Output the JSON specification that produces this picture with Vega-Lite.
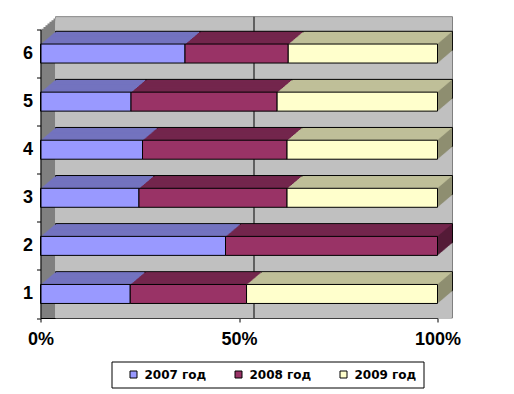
{
  "$schema": "https://vega.github.io/schema/vega-lite/v6.json",
  "width": 397,
  "height": 288.5,
  "autosize": {"type": "none"},
  "padding": {"left": 40.5, "top": 29.5, "right": 76.5, "bottom": 76},
  "background": "white",
  "config": {
    "view": {"stroke": null},
    "font": "Liberation Sans",
    "axisX": {
      "grid": false, "tickSize": 4, "labelPadding": 8, "domainColor": "black", "tickColor": "black",
      "labelColor": "black", "labelFont": "Liberation Sans", "labelFontSize": 18,
      "labelFontWeight": "bold", "labelFlush": false, "labelOverlap": false, "zindex": 1
    }
  },
  "datasets": {
    "shares": [
      {"cat": "1", "year": "2007 год", "value": 22.6},
      {"cat": "1", "year": "2008 год", "value": 29.3},
      {"cat": "1", "year": "2009 год", "value": 48.1},
      {"cat": "2", "year": "2007 год", "value": 46.6},
      {"cat": "2", "year": "2008 год", "value": 53.4},
      {"cat": "3", "year": "2007 год", "value": 24.8},
      {"cat": "3", "year": "2008 год", "value": 37.3},
      {"cat": "3", "year": "2009 год", "value": 37.9},
      {"cat": "4", "year": "2007 год", "value": 25.7},
      {"cat": "4", "year": "2008 год", "value": 36.4},
      {"cat": "4", "year": "2009 год", "value": 37.9},
      {"cat": "5", "year": "2007 год", "value": 22.8},
      {"cat": "5", "year": "2008 год", "value": 36.8},
      {"cat": "5", "year": "2009 год", "value": 40.4},
      {"cat": "6", "year": "2007 год", "value": 36.4},
      {"cat": "6", "year": "2008 год", "value": 26.0},
      {"cat": "6", "year": "2009 год", "value": 37.6}
    ]
  },
  "layer": [
    {
      "data": {"name": "shares"},
      "transform": [
        {"stack": "value", "groupby": ["cat"], "offset": "normalize", "sort": [{"field": "year", "order": "ascending"}], "as": ["x0", "x1"]},
        {"aggregate": [{"op": "min", "field": "x0", "as": "lo"}, {"op": "max", "field": "x1", "as": "hi"}]}
      ],
      "encoding": {
        "x": {"field": "lo", "type": "quantitative", "scale": {"domain": [0, 1], "nice": false}, "axis": {"title": null, "values": [0, 0.5, 1], "format": "%"}},
        "x2": {"field": "hi"}
      },
      "layer": [
        {"mark": {"type": "rect", "fill": "#808080", "xOffset": 15, "x2Offset": 15, "yOffset": -12.75, "y2Offset": -12.75}},
        {"mark": {"type": "rect", "fill": "#808080", "xOffset": 13, "x2Offset": 13, "yOffset": -11.05, "y2Offset": -11.05}},
        {"mark": {"type": "rect", "fill": "#808080", "xOffset": 11, "x2Offset": 11, "yOffset": -9.35, "y2Offset": -9.35}},
        {"mark": {"type": "rect", "fill": "#808080", "xOffset": 9, "x2Offset": 9, "yOffset": -7.65, "y2Offset": -7.65}},
        {"mark": {"type": "rect", "fill": "#808080", "xOffset": 7, "x2Offset": 7, "yOffset": -5.95, "y2Offset": -5.95}},
        {"mark": {"type": "rect", "fill": "#808080", "xOffset": 5, "x2Offset": 5, "yOffset": -4.25, "y2Offset": -4.25}},
        {"mark": {"type": "rect", "fill": "#808080", "xOffset": 3, "x2Offset": 3, "yOffset": -2.55, "y2Offset": -2.55}},
        {"mark": {"type": "rect", "fill": "#808080", "xOffset": 1, "x2Offset": 1, "yOffset": -0.85, "y2Offset": -0.85}},
        {"mark": {"type": "rect", "fill": "#808080"}},
        {"mark": {"type": "rect", "fill": "#C0C0C0", "stroke": "#808080", "strokeWidth": 1, "xOffset": 15, "x2Offset": 15, "yOffset": -12.75, "y2Offset": -12.75}},
        {"mark": {"type": "rect", "fill": "#C0C0C0", "xOffset": 15, "x2Offset": 14, "yOffset": -11.9, "y2Offset": -11.9}},
        {"mark": {"type": "rect", "fill": "#C0C0C0", "xOffset": 15, "x2Offset": 12, "yOffset": -10.2, "y2Offset": -10.2}},
        {"mark": {"type": "rect", "fill": "#C0C0C0", "xOffset": 15, "x2Offset": 10, "yOffset": -8.5, "y2Offset": -8.5}},
        {"mark": {"type": "rect", "fill": "#C0C0C0", "xOffset": 15, "x2Offset": 8, "yOffset": -6.8, "y2Offset": -6.8}},
        {"mark": {"type": "rect", "fill": "#C0C0C0", "xOffset": 15, "x2Offset": 6, "yOffset": -5.1, "y2Offset": -5.1}},
        {"mark": {"type": "rect", "fill": "#C0C0C0", "xOffset": 15, "x2Offset": 4, "yOffset": -3.4, "y2Offset": -3.4}},
        {"mark": {"type": "rect", "fill": "#C0C0C0", "xOffset": 15, "x2Offset": 2, "yOffset": -1.7, "y2Offset": -1.7}},
        {"mark": {"type": "rect", "fill": "#C0C0C0", "xOffset": 15, "x2Offset": 0}}
      ]
    },
    {
      "data": {"values": [{"w": 1}]},
      "mark": {"type": "rule", "color": "black", "strokeWidth": 1, "xOffset": 15, "x2Offset": 15, "yOffset": -12.75, "y2Offset": -12.75},
      "encoding": {"x": {"datum": 0.5, "type": "quantitative", "axis": {"title": null, "values": [0, 0.5, 1], "format": "%"}}}
    },
    {
      "data": {"name": "shares"},
      "transform": [
        {"stack": "value", "groupby": ["cat"], "offset": "normalize", "sort": [{"field": "year", "order": "ascending"}], "as": ["x0", "x1"]}
      ],
      "encoding": {
        "y": {
          "field": "cat", "type": "nominal", "sort": "descending",
          "scale": {"paddingInner": 0, "paddingOuter": 0},
          "axis": {
            "title": null, "labelAngle": 0, "tickBand": "extent", "tickSize": 4, "labelPadding": 4,
            "domainColor": "black", "tickColor": "black", "labelColor": "black",
            "labelFont": "Liberation Sans", "labelFontSize": 18, "labelFontWeight": "bold",
            "grid": false, "zindex": 1
          }
        }
      },
      "layer": [
        {
          "encoding": {
            "x": {"field": "x0", "type": "quantitative", "axis": {"title": null, "values": [0, 0.5, 1], "format": "%"}},
            "x2": {"field": "x1"},
            "color": {"field": "year", "type": "nominal", "scale": {"domain": ["2007 год", "2008 год", "2009 год"], "range": ["#7373BF", "#73264D", "#BFBF99"]}, "legend": null}
          },
          "layer": [
            {"mark": {"type": "bar", "size": 19, "stroke": "black", "strokeWidth": 1, "xOffset": 15, "x2Offset": 15, "yOffset": -12.75, "y2Offset": -12.75}},
            {"mark": {"type": "bar", "size": 19, "xOffset": 14, "x2Offset": 14, "yOffset": -11.9, "y2Offset": -11.9}},
            {"mark": {"type": "bar", "size": 19, "xOffset": 13, "x2Offset": 13, "yOffset": -11.05, "y2Offset": -11.05}},
            {"mark": {"type": "bar", "size": 19, "xOffset": 12, "x2Offset": 12, "yOffset": -10.2, "y2Offset": -10.2}},
            {"mark": {"type": "bar", "size": 19, "xOffset": 11, "x2Offset": 11, "yOffset": -9.35, "y2Offset": -9.35}},
            {"mark": {"type": "bar", "size": 19, "xOffset": 10, "x2Offset": 10, "yOffset": -8.5, "y2Offset": -8.5}},
            {"mark": {"type": "bar", "size": 19, "xOffset": 9, "x2Offset": 9, "yOffset": -7.65, "y2Offset": -7.65}},
            {"mark": {"type": "bar", "size": 19, "xOffset": 8, "x2Offset": 8, "yOffset": -6.8, "y2Offset": -6.8}},
            {"mark": {"type": "bar", "size": 19, "xOffset": 7, "x2Offset": 7, "yOffset": -5.95, "y2Offset": -5.95}},
            {"mark": {"type": "bar", "size": 19, "xOffset": 6, "x2Offset": 6, "yOffset": -5.1, "y2Offset": -5.1}},
            {"mark": {"type": "bar", "size": 19, "xOffset": 5, "x2Offset": 5, "yOffset": -4.25, "y2Offset": -4.25}},
            {"mark": {"type": "bar", "size": 19, "xOffset": 4, "x2Offset": 4, "yOffset": -3.4, "y2Offset": -3.4}},
            {"mark": {"type": "bar", "size": 19, "xOffset": 3, "x2Offset": 3, "yOffset": -2.55, "y2Offset": -2.55}},
            {"mark": {"type": "bar", "size": 19, "xOffset": 2, "x2Offset": 2, "yOffset": -1.7, "y2Offset": -1.7}},
            {"mark": {"type": "bar", "size": 19, "xOffset": 1, "x2Offset": 1, "yOffset": -0.85, "y2Offset": -0.85}}
          ]
        },
        {
          "transform": [{"filter": "datum.x1 > 0.999"}],
          "encoding": {
            "x": {"field": "x1", "type": "quantitative", "axis": {"title": null, "values": [0, 0.5, 1], "format": "%"}},
            "color": {"field": "year", "type": "nominal", "scale": {"domain": ["2007 год", "2008 год", "2009 год"], "range": ["#4D4D80", "#4D1A33", "#808066"]}, "legend": null}
          },
          "layer": [
            {"mark": {"type": "tick", "orient": "vertical", "size": 19, "thickness": 1.3, "xOffset": 14, "yOffset": -11.9}},
            {"mark": {"type": "tick", "orient": "vertical", "size": 19, "thickness": 1.3, "xOffset": 13, "yOffset": -11.05}},
            {"mark": {"type": "tick", "orient": "vertical", "size": 19, "thickness": 1.3, "xOffset": 12, "yOffset": -10.2}},
            {"mark": {"type": "tick", "orient": "vertical", "size": 19, "thickness": 1.3, "xOffset": 11, "yOffset": -9.35}},
            {"mark": {"type": "tick", "orient": "vertical", "size": 19, "thickness": 1.3, "xOffset": 10, "yOffset": -8.5}},
            {"mark": {"type": "tick", "orient": "vertical", "size": 19, "thickness": 1.3, "xOffset": 9, "yOffset": -7.65}},
            {"mark": {"type": "tick", "orient": "vertical", "size": 19, "thickness": 1.3, "xOffset": 8, "yOffset": -6.8}},
            {"mark": {"type": "tick", "orient": "vertical", "size": 19, "thickness": 1.3, "xOffset": 7, "yOffset": -5.95}},
            {"mark": {"type": "tick", "orient": "vertical", "size": 19, "thickness": 1.3, "xOffset": 6, "yOffset": -5.1}},
            {"mark": {"type": "tick", "orient": "vertical", "size": 19, "thickness": 1.3, "xOffset": 5, "yOffset": -4.25}},
            {"mark": {"type": "tick", "orient": "vertical", "size": 19, "thickness": 1.3, "xOffset": 4, "yOffset": -3.4}},
            {"mark": {"type": "tick", "orient": "vertical", "size": 19, "thickness": 1.3, "xOffset": 3, "yOffset": -2.55}},
            {"mark": {"type": "tick", "orient": "vertical", "size": 19, "thickness": 1.3, "xOffset": 2, "yOffset": -1.7}},
            {"mark": {"type": "tick", "orient": "vertical", "size": 19, "thickness": 1.3, "xOffset": 1, "yOffset": -0.85}}
          ]
        },
        {
          "mark": {"type": "bar", "size": 19, "stroke": "black", "strokeWidth": 1},
          "encoding": {
            "x": {"field": "x0", "type": "quantitative", "axis": {"title": null, "values": [0, 0.5, 1], "format": "%"}},
            "x2": {"field": "x1"},
            "color": {
              "field": "year", "type": "nominal",
              "scale": {"domain": ["2007 год", "2008 год", "2009 год"], "range": ["#9999FF", "#993366", "#FFFFCC"]},
              "legend": {
                "orient": "none", "legendX": 71, "legendY": 332, "direction": "horizontal",
                "title": "\u00a0\u00a0\u00a0\u00a0", "titleOrient": "left", "titlePadding": 9, "titleFont": "DejaVu Sans", "titleFontSize": 12,
                "symbolType": "square", "symbolSize": 49, "symbolStrokeColor": "black", "symbolStrokeWidth": 1,
                "labelFont": "DejaVu Sans", "labelFontSize": 12, "labelFontWeight": "bold", "labelColor": "black",
                "labelOffset": 5, "labelExpr": "datum.label + '\u00a0\u00a0\u00a0\u00a0'",
                "columnPadding": 26, "padding": 7,
                "strokeColor": "black", "fillColor": "white"
              }
            }
          }
        }
      ],
      "resolve": {"scale": {"color": "independent"}}
    }
  ],
  "resolve": {"scale": {"color": "independent"}}
}
